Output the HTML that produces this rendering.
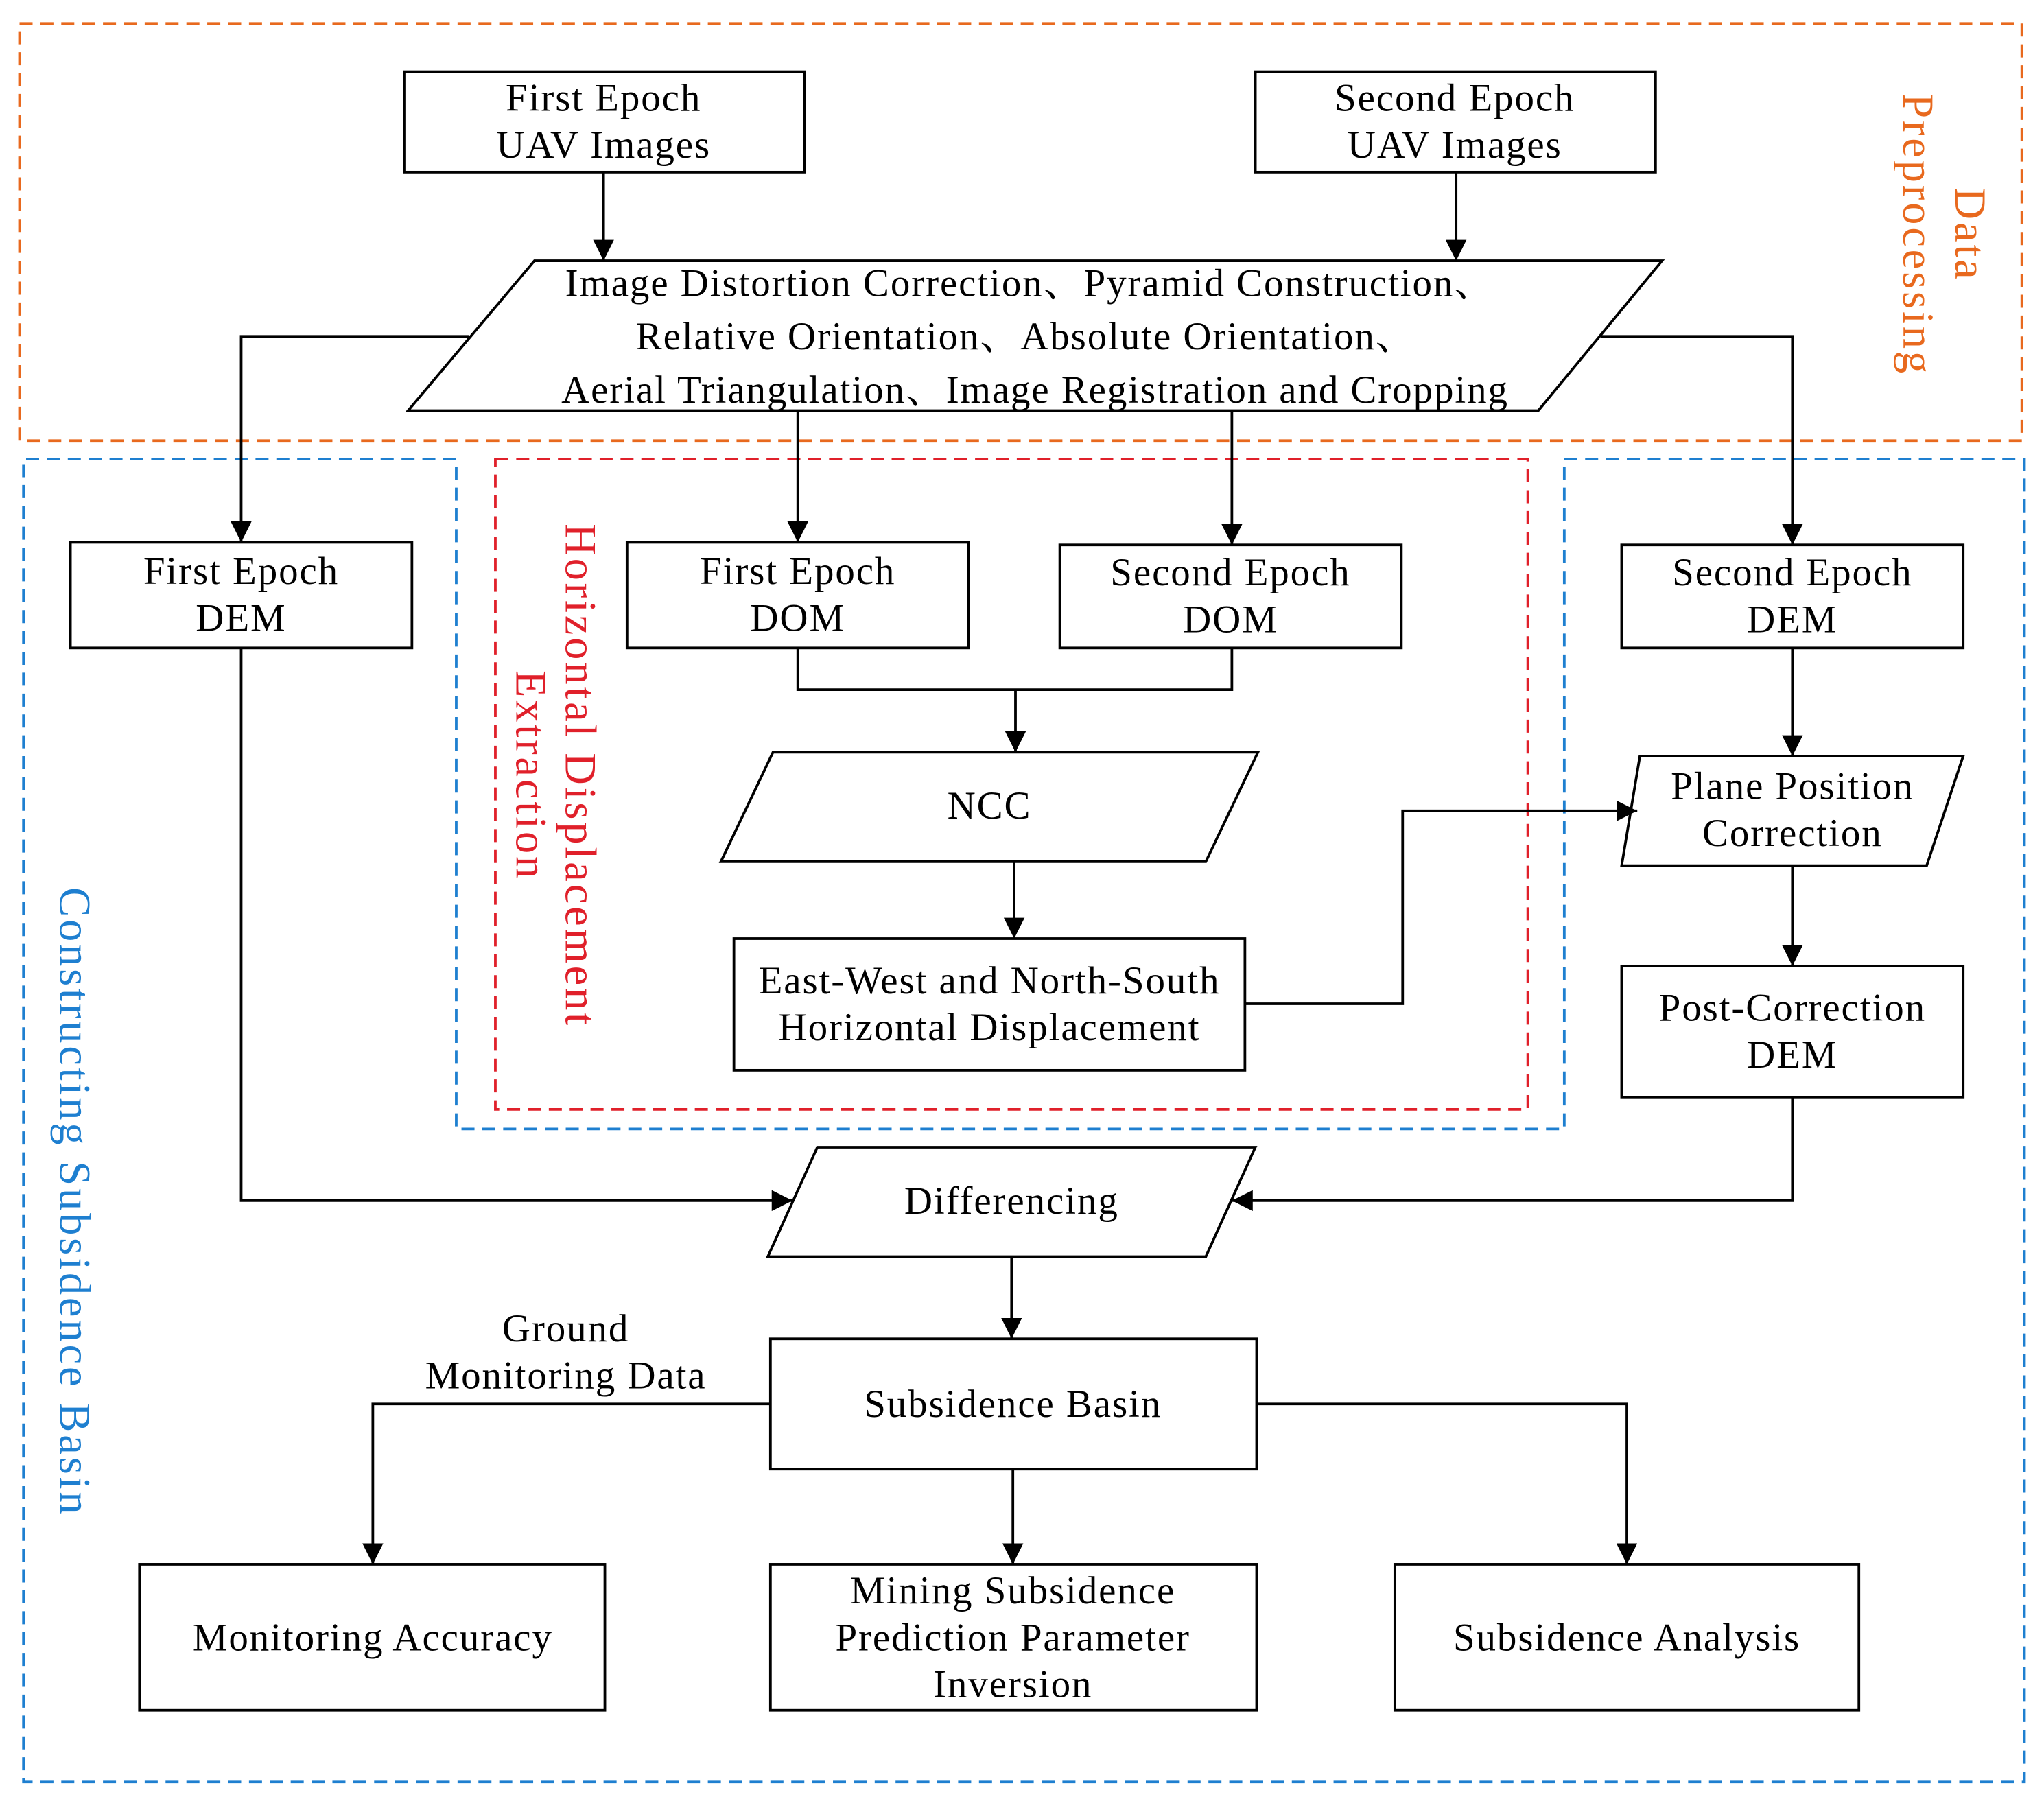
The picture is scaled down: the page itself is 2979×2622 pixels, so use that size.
<!DOCTYPE html>
<html><head><meta charset="utf-8"><style>
html,body{margin:0;padding:0;background:#fff;}
svg{display:block;}
text{font-family:"Liberation Serif","Noto Serif CJK SC",serif;font-size:30px;letter-spacing:1px;fill:#000;}
text.r{font-size:34px;letter-spacing:2px;}
</style></head><body>
<svg width="2979" height="2622" viewBox="0 0 1568 1380" xmlns="http://www.w3.org/2000/svg">
<defs>
<marker id="b" viewBox="0 0 10 10" markerWidth="16" markerHeight="16" refX="10" refY="5" orient="auto" markerUnits="userSpaceOnUse"><path d="M0,0 L10,5 L0,10 Z" fill="#000"/></marker></defs>
<rect width="1568" height="1380" fill="#fff"/>
<rect x="15" y="18" width="1536" height="320" fill="none" stroke="#E8691E" stroke-width="2" stroke-dasharray="10,6"/>
<path d="M350,352 H18 V1367 H1553 V352 H1200 V866 H350 Z" fill="none" stroke="#1E7FD0" stroke-width="2" stroke-dasharray="10,6"/>
<rect x="380" y="352" width="792" height="499" fill="none" stroke="#E0202A" stroke-width="2" stroke-dasharray="10,6"/>
<g transform="translate(1490,180) rotate(90)"><text class="r" x="0" y="-10" text-anchor="middle" style="fill:#E8691E">Data</text><text class="r" x="0" y="30" text-anchor="middle" style="fill:#E8691E">Preprocessing</text></g>
<g transform="translate(424,595) rotate(90)"><text class="r" x="0" y="-10" text-anchor="middle" style="fill:#E0202A">Horizontal Displacement</text><text class="r" x="0" y="28" text-anchor="middle" style="fill:#E0202A">Extraction</text></g>
<g transform="translate(58,922) rotate(90)"><text class="r" x="0" y="12" text-anchor="middle" style="fill:#1E7FD0">Constructing Subsidence Basin</text></g>
<g fill="none" stroke="#000" stroke-width="2">
<rect x="310" y="55" width="307" height="77"/>
<rect x="963" y="55" width="307" height="77"/>
<path d="M410,200 H1275 L1180,315 H313 Z"/>
<rect x="54" y="416" width="262" height="81"/>
<rect x="481" y="416" width="262" height="81"/>
<rect x="813" y="418" width="262" height="79"/>
<rect x="1244" y="418" width="262" height="79"/>
<path d="M593,577 H965 L925,661 H553 Z"/>
<rect x="563" y="720" width="392" height="101"/>
<path d="M1258,580 H1506 L1478,664 H1244 Z"/>
<rect x="1244" y="741" width="262" height="101"/>
<path d="M627,880 H963 L925,964 H589 Z"/>
<rect x="591" y="1027" width="373" height="100"/>
<rect x="107" y="1200" width="357" height="112"/>
<rect x="591" y="1200" width="373" height="112"/>
<rect x="1070" y="1200" width="356" height="112"/>
</g>
<g fill="none" stroke="#000" stroke-width="2" marker-end="url(#b)">
<path d="M463,132 V200"/>
<path d="M1117,132 V200"/>
<path d="M360,258 H185 V416"/>
<path d="M1228,258 H1375 V418"/>
<path d="M612,315 V416"/>
<path d="M945,315 V418"/>
<path d="M612,497 V529 H945 V497 M779,529 V577"/>
<path d="M778,661 V720"/>
<path d="M955,770 H1076 V622 H1256"/>
<path d="M1375,497 V580"/>
<path d="M1375,664 V741"/>
<path d="M1375,842 V921 H945"/>
<path d="M185,497 V921 H608"/>
<path d="M776,964 V1027"/>
<path d="M591,1077 H286 V1200"/>
<path d="M964,1077 H1248 V1200"/>
<path d="M777,1127 V1200"/>
</g>
<g text-anchor="middle">
<text x="463" y="85">First Epoch</text><text x="463" y="121">UAV Images</text>
<text x="1116" y="85">Second Epoch</text><text x="1116" y="121">UAV Images</text>
<text x="790" y="227">Image Distortion Correction、Pyramid Construction、</text>
<text x="787" y="268">Relative Orientation、Absolute Orientation、</text>
<text x="794" y="309">Aerial Triangulation、Image Registration and Cropping</text>
<text x="185" y="448">First Epoch</text><text x="185" y="484">DEM</text>
<text x="612" y="448">First Epoch</text><text x="612" y="484">DOM</text>
<text x="944" y="449">Second Epoch</text><text x="944" y="485">DOM</text>
<text x="1375" y="449">Second Epoch</text><text x="1375" y="485">DEM</text>
<text x="759" y="628">NCC</text>
<text x="759" y="762">East-West and North-South</text><text x="759" y="798">Horizontal Displacement</text>
<text x="1375" y="613">Plane Position</text><text x="1375" y="649">Correction</text>
<text x="1375" y="783">Post-Correction</text><text x="1375" y="819">DEM</text>
<text x="776" y="931">Differencing</text>
<text x="434" y="1029">Ground</text><text x="434" y="1065">Monitoring Data</text>
<text x="777" y="1087">Subsidence Basin</text>
<text x="286" y="1266">Monitoring Accuracy</text>
<text x="777" y="1230">Mining Subsidence</text><text x="777" y="1266">Prediction Parameter</text><text x="777" y="1302">Inversion</text>
<text x="1248" y="1266">Subsidence Analysis</text>
</g>
</svg>
</body></html>
